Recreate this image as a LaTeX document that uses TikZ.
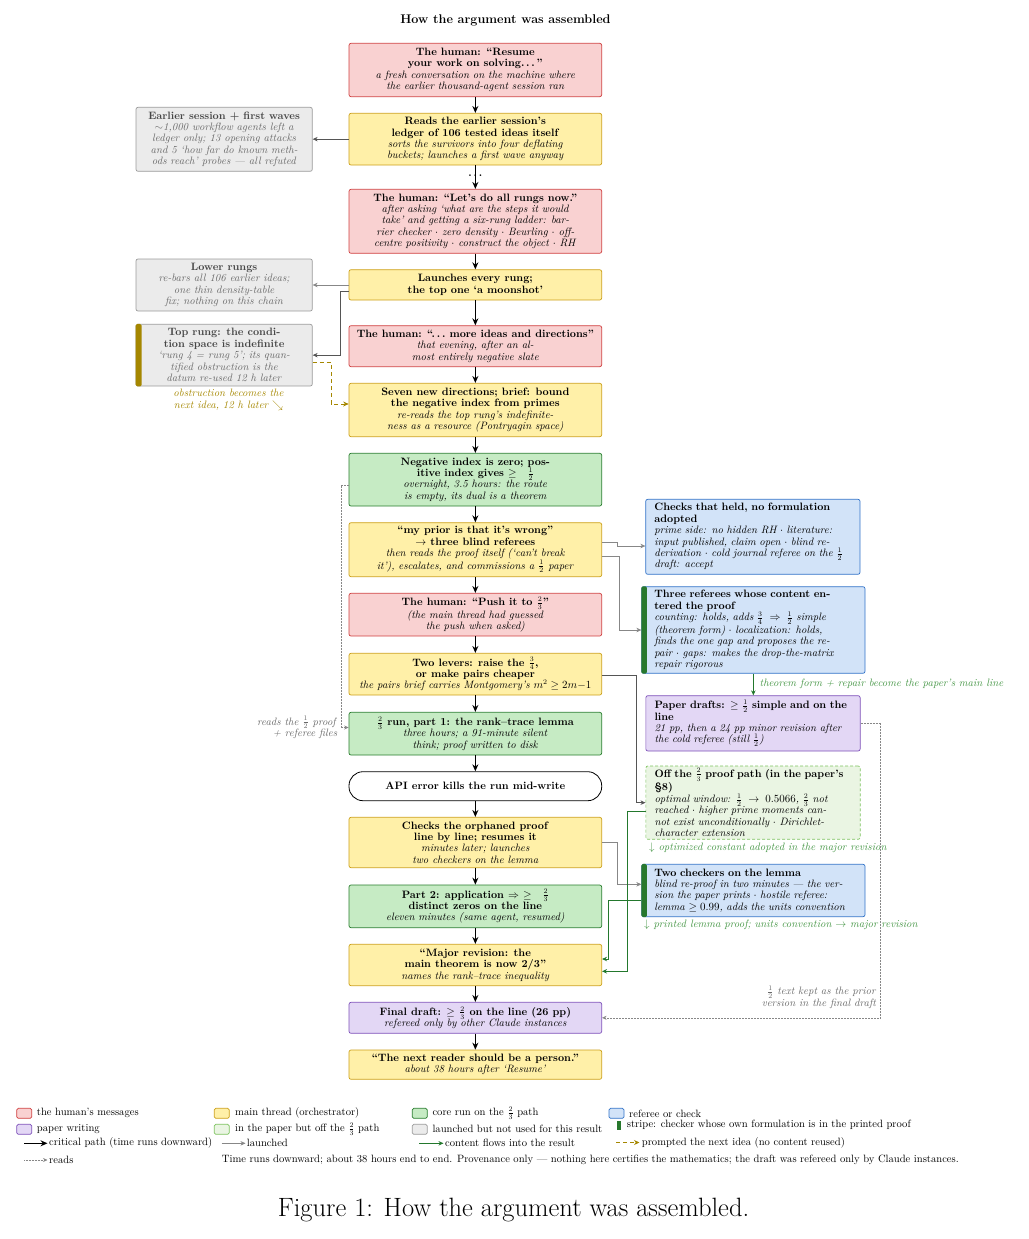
\documentclass[tikz,border=0pt]{standalone}
\usetikzlibrary{arrows.meta,calc}
\definecolor{humF}{RGB}{249,209,209}
\definecolor{humD}{RGB}{208,64,64}
\definecolor{mainF}{RGB}{255,240,168}
\definecolor{mainD}{RGB}{204,160,24}
\definecolor{coreF}{RGB}{198,235,196}
\definecolor{coreD}{RGB}{40,125,45}
\definecolor{refF}{RGB}{210,227,248}
\definecolor{refD}{RGB}{50,115,200}
\definecolor{papF}{RGB}{227,215,245}
\definecolor{papD}{RGB}{125,80,185}
\definecolor{offF}{RGB}{234,245,227}
\definecolor{offD}{RGB}{125,195,95}
\definecolor{grF}{RGB}{235,235,235}
\definecolor{grD}{RGB}{155,155,155}
\definecolor{grT}{RGB}{70,70,70}
\definecolor{grI}{RGB}{105,105,105}
\definecolor{oliveC}{RGB}{165,135,0}
\definecolor{flowG}{RGB}{35,120,45}
\definecolor{lblG}{RGB}{70,150,70}
\definecolor{launchC}{RGB}{135,135,135}
\definecolor{launchD}{RGB}{85,85,85}
\definecolor{stripeG}{RGB}{40,120,45}
\newcommand\Bl[1]{\mbox{\textbf{#1}}}
\newcommand\Il[1]{\mbox{\textit{#1}}}
\newcommand\Gb[1]{\mbox{\color{grT}\textbf{#1}}}
\newcommand\Gi[1]{\mbox{\color{grI}\textit{#1}}}
\newcommand\sdots{.\,.\,.}
\def\cx{475.35}
\def\lx{224.15}
\tikzset{
  every node/.style={font=\fontsize{10.7}{11.4}\selectfont},
  box/.style={rounded corners=2pt, line width=0.7pt, align=center, inner xsep=3pt, inner ysep=1pt, minimum width=252.7pt},
  hum/.style={box, draw=humD, fill=humF},
  mainb/.style={box, draw=mainD, fill=mainF},
  core/.style={box, draw=coreD, fill=coreF},
  pap/.style={box, draw=papD, fill=papF},
  pill/.style={box, draw=black, fill=white, rounded corners=14pt, line width=0.8pt},
  grb/.style={box, draw=grD, fill=grF, minimum width=176.3pt},
  rbox/.style={rounded corners=2pt, line width=0.7pt, align=left, inner ysep=1pt, inner xsep=8.65pt, text width=197pt},
  refb/.style={rbox, draw=refD, fill=refF},
  refs/.style={rbox, draw=refD, fill=refF, inner xsep=12.6pt, text width=198.1pt},
  papr/.style={rbox, draw=papD, fill=papF},
  offb/.style={rbox, draw=offD, fill=offF, dashed, dash pattern=on 3pt off 2pt},
  crit/.style={-{Stealth[length=7pt,width=6pt]}, line width=1.2pt, black},
  launch/.style={-{Stealth[length=5pt,width=4.5pt]}, line width=0.6pt, launchC},
  launchd/.style={-{Stealth[length=5pt,width=4.5pt]}, line width=0.7pt, launchD},
  flow/.style={-{Stealth[length=5pt,width=4.5pt]}, line width=0.9pt, flowG},
  prompt/.style={-{Stealth[length=5.5pt,width=5pt]}, line width=1pt, oliveC, dash pattern=on 4pt off 3pt},
  readsl/.style={-{Stealth[length=4.5pt,width=4pt]}, line width=0.5pt, launchC, densely dotted},
  swatch/.style={rounded corners=1.5pt, line width=0.7pt, minimum width=15pt, minimum height=10pt, inner sep=0pt},
  legt/.style={anchor=west, inner sep=0pt, font=\fontsize{10.6}{11.4}\selectfont}
}
\begin{document}
\begin{tikzpicture}[x=1pt,y=-1pt]
\useasboundingbox (0,0) rectangle (1028,1239);

% title
\node[font=\fontsize{12.6}{14}\selectfont\bfseries] (title) at (505.5,20.5) {How the argument was assembled};

% centre column
\node[hum, minimum height=53.4pt] (b1) at (\cx,70) {\Bl{The human: ``Resume}\\\Bl{your work on solving\sdots\,''}\\\Il{a fresh conversation on the machine where}\\\Il{the earlier thousand-agent session ran}};
\node[mainb, minimum height=51.7pt] (b2) at (\cx,139.15) {\Bl{Reads the earlier session's}\\\Bl{ledger of 106 tested ideas itself}\\\Il{sorts the survivors into four deflating}\\\Il{buckets; launches a first wave anyway}};
\node[hum, minimum height=64pt] (b3) at (\cx,221.3) {\Bl{The human: ``Let's do all rungs now.''}\\\Il{after asking `what are the steps it would}\\\Il{take' and getting a six-rung ladder: bar-}\\\Il{rier checker $\cdot$ zero density $\cdot$ Beurling $\cdot$ off-}\\\Il{centre positivity $\cdot$ construct the object $\cdot$ RH}};
\node[mainb, minimum height=30.3pt] (b4) at (\cx,284.85) {\Bl{Launches every rung;}\\\Bl{the top one `a moonshot'}};
\node[hum, minimum height=41pt] (b5) at (\cx,346.2) {\Bl{The human: ``\sdots\ more ideas and directions''}\\\Il{that evening, after an al-}\\\Il{most entirely negative slate}};
\node[mainb, minimum height=53.4pt] (b6) at (\cx,410) {\Bl{Seven new directions; brief: bound}\\\Bl{the negative index from primes}\\\Il{re-reads the top rung's indefinite-}\\\Il{ness as a resource (Pontryagin space)}};
\node[core, minimum height=52.7pt] (b7) at (\cx,479.65) {\Bl{Negative index is zero; pos-}\\\Bl{itive index gives $\geq$\quad$\frac{1}{2}$}\\\Il{overnight, 3.5 hours: the route}\\\Il{is empty, its dual is a theorem}};
\node[mainb, minimum height=54pt] (b8) at (\cx,549.7) {\Bl{``my prior is that it's wrong''}\\\Bl{$\to$ three blind referees}\\\Il{then reads the proof itself (`can't break}\\\Il{it'), escalates, and commissions a $\frac{1}{2}$ paper}};
\node[hum, minimum height=42.7pt] (b9) at (\cx,614.65) {\Bl{The human: ``Push it to $\frac{2}{3}$''}\\\Il{(the main thread had guessed}\\\Il{the push when asked)}};
\node[mainb, minimum height=41.7pt] (b10) at (\cx,674.15) {\Bl{Two levers: raise the $\frac{3}{4}$,}\\\Bl{or make pairs cheaper}\\\Il{the pairs brief carries Montgomery's $m^2\geq 2m{-}1$}};
\node[core, minimum height=42.7pt] (b11) at (\cx,733.65) {\Bl{$\frac{2}{3}$ run, part 1: the rank--trace lemma}\\\Il{three hours; a 91-minute silent}\\\Il{think; proof written to disk}};
\node[pill, minimum height=29pt] (b12) at (\cx,786.2) {\Bl{API error kills the run mid-write}};
\node[mainb, minimum height=50.4pt] (b13) at (\cx,842.5) {\Bl{Checks the orphaned proof}\\\Bl{line by line; resumes it}\\\Il{minutes later; launches}\\\Il{two checkers on the lemma}};
\node[core, minimum height=42.7pt] (b14) at (\cx,906.35) {\Bl{Part 2: application $\Rightarrow$ $\geq$\quad$\frac{2}{3}$}\\\Bl{distinct zeros on the line}\\\Il{eleven minutes (same agent, resumed)}};
\node[mainb, minimum height=41.4pt] (b15) at (\cx,965) {\Bl{``Major revision: the}\\\Bl{main theorem is now 2/3''}\\\Il{names the rank--trace inequality}};
\node[pap, minimum height=31pt] (b16) at (\cx,1017.8) {\Bl{Final draft: $\geq$ $\frac{2}{3}$ on the line (26 pp)}\\\Il{refereed only by other Claude instances}};
\node[mainb, minimum height=29.3pt] (b17) at (\cx,1064.65) {\Bl{``The next reader should be a person.''}\\\Il{about 38 hours after `Resume'}};

% left column
\node[grb, minimum height=64pt] (L1) at (\lx,139.3) {\Gb{Earlier session + first waves}\\\Gi{$\sim$1,000 workflow agents left a}\\\Gi{ledger only; 13 opening attacks}\\\Gi{and 5 `how far do known meth-}\\\Gi{ods reach' probes --- all refuted}};
\node[grb, minimum height=52pt] (L2) at (\lx,285) {\Gb{Lower rungs}\\\Gi{re-bars all 106 earlier ideas;}\\\Gi{one thin density-table}\\\Gi{fix; nothing on this chain}};
\node[grb, minimum height=61.7pt] (L3) at (\lx,355.15) {\Gb{Top rung: the condi-}\\\Gb{tion space is indefinite}\\\Gi{`rung 4 = rung 5'; its quan-}\\\Gi{tified obstruction is the}\\\Gi{datum re-used 12 h later}};
\fill[oliveC, rounded corners=1.5pt] (L3.north west) rectangle ($(L3.south west)+(6,0)$);
\node[align=center, text=oliveC, inner sep=0pt] (lab6) at (228.5,400) {\Il{obstruction becomes the}\\\Il{next idea, 12 h later $\searrow$}};

% right column
\node[refb, minimum height=75pt] (R1) at (752.85,536.8) {\Bl{Checks that held, no formulation}\\\Bl{adopted}\\\Il{prime side: no hidden RH $\cdot$ literature:}\\\Il{input published, claim open $\cdot$ blind re-}\\\Il{derivation $\cdot$ cold journal referee on the $\frac{1}{2}$}\\\Il{draft: accept}};
\node[refs, minimum height=86.6pt] (R2) at (753.35,630) {\Bl{Three referees whose content en-}\\\Bl{tered the proof}\\\Il{counting: holds, adds $\frac{3}{4}\;\Rightarrow\;\frac{1}{2}$ simple}\\\Il{(theorem form) $\cdot$ localization: holds,}\\\Il{finds the one gap and proposes the re-}\\\Il{pair $\cdot$ gaps: makes the drop-the-matrix}\\\Il{repair rigorous}};
\fill[stripeG, rounded corners=1.5pt] (R2.north west) rectangle ($(R2.south west)+(5.6,0)$);
\node[papr, minimum height=55.3pt] (R3) at (753,723.35) {\Bl{Paper drafts: $\geq$ $\frac{1}{2}$ simple and on the}\\\Bl{line}\\\Il{21 pp, then a 24 pp minor revision after}\\\Il{the cold referee (still $\frac{1}{2}$)}};
\node[offb, minimum height=73.3pt] (R4) at (753,802.65) {\Bl{Off the $\frac{2}{3}$ proof path (in the paper's}\\\Bl{\S8)}\\\Il{optimal window: $\frac{1}{2}\;\to\;0.5066$, $\frac{2}{3}$ not}\\\Il{reached $\cdot$ higher prime moments can-}\\\Il{not exist unconditionally $\cdot$ Dirichlet-}\\\Il{character extension}};
\node[refs, minimum height=52.4pt] (R5) at (753.35,890.5) {\Bl{Two checkers on the lemma}\\\Il{blind re-proof in two minutes --- the ver-}\\\Il{sion the paper prints $\cdot$ hostile referee:}\\\Il{lemma $\geq 0.99$, adds the units convention}};
\fill[stripeG, rounded corners=1.5pt] (R5.north west) rectangle ($(R5.south west)+(5.6,0)$);

% labels
\node[anchor=west, text=lblG, inner sep=0pt] (lab1) at (759.5,684) {\Il{theorem form + repair become the paper's main line}};
\node[anchor=west, text=lblG, inner sep=0pt] (lab2) at (649,847.3) {\Il{$\downarrow$ optimized constant adopted in the major revision}};
\node[anchor=west, text=lblG, inner sep=0pt] (lab3) at (644,925) {\Il{$\downarrow$ printed lemma proof; units convention $\to$ major revision}};
\node[anchor=east, align=right, text=grI, inner sep=0pt] (lab4) at (876.5,997) {\Il{$\frac{1}{2}$ text kept as the prior}\\\Il{version in the final draft}};
\node[anchor=east, align=right, text=grI, inner sep=0pt] (lab5) at (337.5,727.5) {\Il{reads the $\frac{1}{2}$ proof}\\\Il{+ referee files}};

% critical path
\draw[crit] (b1.south) -- (b2.north);
\draw[crit] (b2.south) -- node[pos=0.45, inner sep=0pt, font=\fontsize{10.7}{11.4}\selectfont\bfseries] (dots) {.\,.\,.} (b3.north);
\draw[crit] (b3.south) -- (b4.north);
\draw[crit] (b4.south) -- (b5.north);
\draw[crit] (b5.south) -- (b6.north);
\draw[crit] (b6.south) -- (b7.north);
\draw[crit] (b7.south) -- (b8.north);
\draw[crit] (b8.south) -- (b9.north);
\draw[crit] (b9.south) -- (b10.north);
\draw[crit] (b10.south) -- (b11.north);
\draw[crit] (b11.south) -- (b12.north);
\draw[crit] (b12.south) -- (b13.north);
\draw[crit] (b13.south) -- (b14.north);
\draw[crit] (b14.south) -- (b15.north);
\draw[crit] (b15.south) -- (b16.north);
\draw[crit] (b16.south) -- (b17.north);

% launched
\draw[launchd] (b2.west) -- (b2.west -| L1.east);
\draw[launch] (b4.west |- 0,285) -- (L2.east |- 0,285);
\draw[launchd] (b4.west |- 0,291) -- (340.7,291) |- (L3.east);
\draw[launch] (b8.east |- 0,542.3) -- (617,542.3) -- (617,546) -- (R1.west |- 0,546);
\draw[launch] (b8.east |- 0,556.7) -- (619,556.7) |- (R2.west);
\draw[launchd] (b10.east |- 0,675) -- (636.7,675) |- (R4.west);
\draw[launch] (b13.east) -- (617.7,842.5) |- (R5.west |- 0,884.3);

% prompted
\draw[prompt] (L3.east |- 0,362.7) -- (331,362.7) |- (b6.west |- 0,404);

% reads
\draw[readsl] (b7.west |- 0,485.7) -- (341,485.7) |- (b11.west |- 0,727.5);
\draw[readsl] (R3.east) -- (880.7,723.35) |- (b16.east);

% content flows
\draw[flow] (R2.south) -- (R2.south |- R3.north);
\draw[flow] (R4.west |- 0,811.7) -- (627,811.7) |- (b15.east |- 0,971.3);
\draw[flow] (R5.west |- 0,900) -- (608.3,900) |- (b15.east |- 0,959);

% legend
\node[swatch, draw=humD, fill=humF] (s1) at (24.2,1113.3) {};
\node[legt] (t1) at (36.7,1113.3) {the human's messages};
\node[swatch, draw=mainD, fill=mainF] (s2) at (221.8,1113.3) {};
\node[legt] (t2) at (235,1113.3) {main thread (orchestrator)};
\node[swatch, draw=coreD, fill=coreF] (s3) at (419.8,1113.3) {};
\node[legt] (t3) at (432.3,1113.3) {core run on the $\frac{2}{3}$ path};
\node[swatch, draw=refD, fill=refF] (s4) at (616.5,1113.3) {};
\node[legt] (t4) at (629,1113.8) {referee or check};
\node[swatch, draw=papD, fill=papF] (s5) at (24.2,1129.3) {};
\node[legt] (t5) at (36.7,1129.3) {paper writing};
\node[swatch, draw=offD, fill=offF] (s6) at (221.8,1129.3) {};
\node[legt] (t6) at (235,1129.3) {in the paper but off the $\frac{2}{3}$ path};
\node[swatch, draw=grD, fill=grF] (s7) at (419.8,1129.3) {};
\node[legt] (t7) at (432.3,1129.3) {launched but not used for this result};
\fill[stripeG] (616.7,1120.5) rectangle (620.9,1129.5);
\node[legt] (t8) at (626.7,1124.5) {stripe: checker whose own formulation is in the printed proof};
\coordinate (a1s) at (24,1143.3); \coordinate (a1e) at (47.5,1143.3);
\draw[crit] (a1s) -- (a1e);
\node[legt] (t9) at (49,1143.3) {critical path (time runs downward)};
\coordinate (a2s) at (221.7,1143.3); \coordinate (a2e) at (245.5,1143.3);
\draw[launch] (a2s) -- (a2e);
\node[legt] (t10) at (246.7,1143.3) {launched};
\coordinate (a3s) at (419.3,1143.3); \coordinate (a3e) at (443.5,1143.3);
\draw[flow] (a3s) -- (a3e);
\node[legt] (t11) at (445,1143.3) {content flows into the result};
\coordinate (a4s) at (616,1142.5); \coordinate (a4e) at (639.5,1142.5);
\draw[prompt] (a4s) -- (a4e);
\node[legt] (t12) at (641.7,1142.5) {prompted the next idea (no content reused)};
\coordinate (a5s) at (24,1160); \coordinate (a5e) at (47.5,1160);
\draw[readsl] (a5s) -- (a5e);
\node[legt] (t13) at (49,1160) {reads};
\node[legt] (t14) at (221.7,1160) {Time runs downward; about 38 hours end to end. Provenance only --- nothing here certifies the mathematics; the draft was refereed only by Claude instances.};

% caption
\node[font=\fontsize{26.5}{31}\selectfont] (cap) at (513.5,1210) {Figure 1: How the argument was assembled.};
\end{tikzpicture}
\end{document}
